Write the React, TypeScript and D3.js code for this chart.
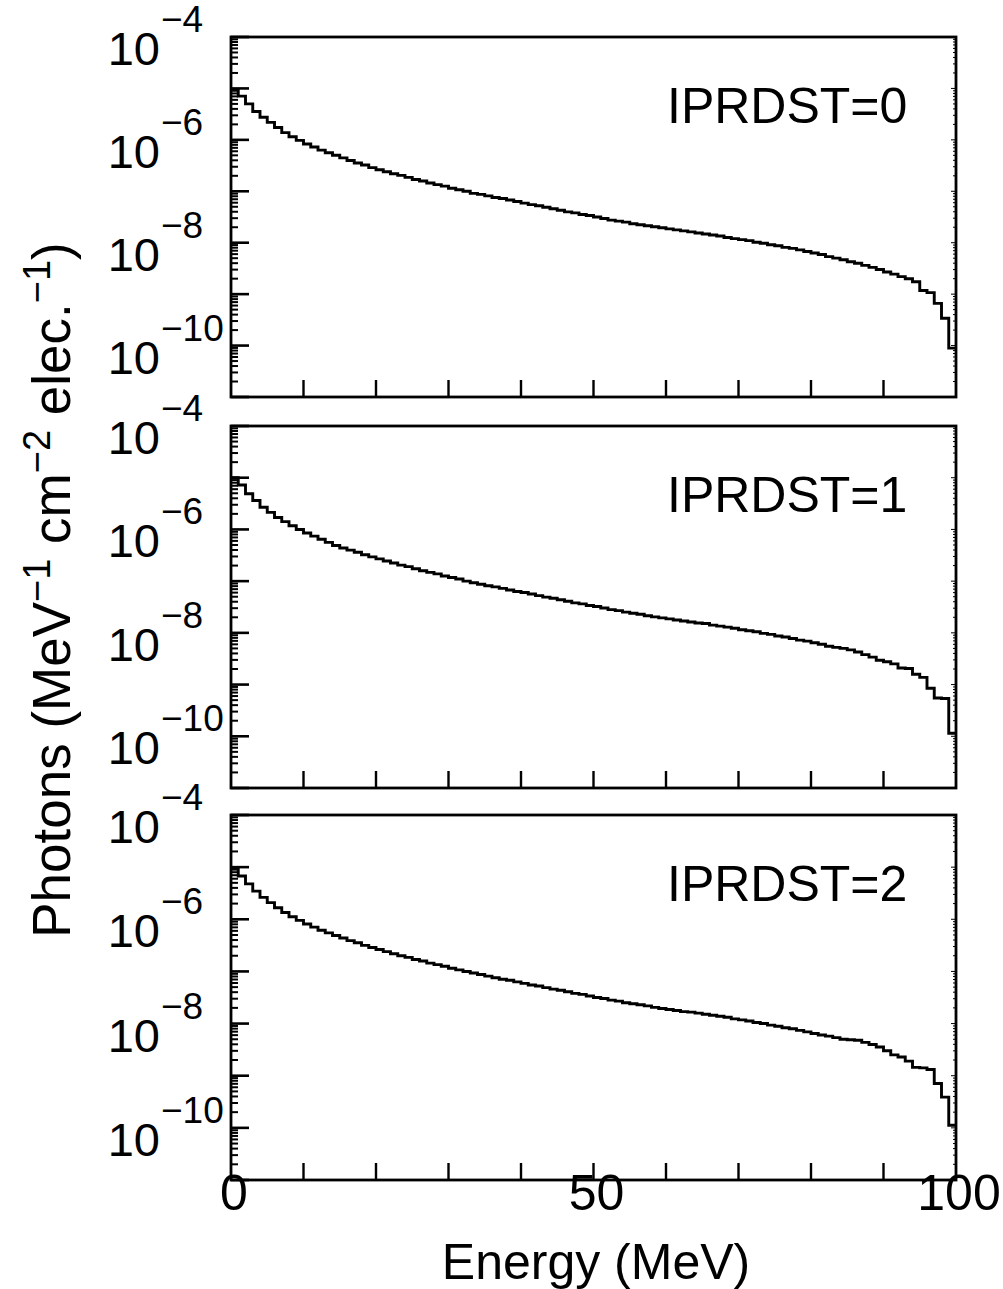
import React, { useEffect, useRef } from 'react';
import * as d3 from 'd3';

// panel labels
const panelNames = ['IPRDST=0', 'IPRDST=1', 'IPRDST=2'];

// log10 of photon flux, one value per 1 MeV bin (0..100 MeV)
const logFlux0 = [
  -5.02, -5.15, -5.30, -5.45, -5.56, -5.66, -5.76, -5.86, -5.94, -6.01,
  -6.08, -6.14, -6.20, -6.25, -6.30, -6.35, -6.40, -6.45, -6.49, -6.54,
  -6.58, -6.62, -6.66, -6.69, -6.73, -6.77, -6.80, -6.84, -6.87, -6.90,
  -6.94, -6.97, -7.00, -7.04, -7.06, -7.09, -7.12, -7.14, -7.17, -7.20,
  -7.23, -7.26, -7.28, -7.31, -7.34, -7.37, -7.40, -7.42, -7.45, -7.47,
  -7.50, -7.53, -7.56, -7.58, -7.60, -7.63, -7.65, -7.67, -7.69, -7.71,
  -7.73, -7.75, -7.77, -7.79, -7.81, -7.83, -7.85, -7.87, -7.90, -7.92,
  -7.94, -7.96, -7.99, -8.01, -8.04, -8.06, -8.09, -8.11, -8.14, -8.17,
  -8.20, -8.23, -8.27, -8.30, -8.33, -8.37, -8.40, -8.44, -8.48, -8.52,
  -8.57, -8.61, -8.66, -8.70, -8.76, -8.93, -8.97, -9.18, -9.47, -10.05,
];
const logFlux1 = [
  -5.00, -5.14, -5.31, -5.44, -5.57, -5.67, -5.77, -5.85, -5.93, -6.00,
  -6.07, -6.13, -6.19, -6.25, -6.31, -6.36, -6.40, -6.44, -6.49, -6.53,
  -6.57, -6.61, -6.65, -6.69, -6.72, -6.76, -6.80, -6.83, -6.86, -6.90,
  -6.93, -6.96, -7.00, -7.03, -7.06, -7.09, -7.11, -7.14, -7.17, -7.20,
  -7.22, -7.25, -7.28, -7.31, -7.33, -7.36, -7.39, -7.42, -7.44, -7.47,
  -7.49, -7.52, -7.55, -7.57, -7.60, -7.62, -7.64, -7.67, -7.69, -7.71,
  -7.73, -7.75, -7.77, -7.79, -7.81, -7.82, -7.85, -7.87, -7.89, -7.91,
  -7.94, -7.96, -7.98, -8.01, -8.03, -8.06, -8.08, -8.11, -8.14, -8.16,
  -8.19, -8.22, -8.26, -8.28, -8.30, -8.33, -8.37, -8.42, -8.47, -8.53,
  -8.56, -8.60, -8.68, -8.69, -8.80, -8.86, -9.07, -9.26, -9.27, -9.94,
];
const logFlux2 = [
  -5.03, -5.17, -5.32, -5.46, -5.58, -5.68, -5.78, -5.87, -5.95, -6.02,
  -6.09, -6.15, -6.21, -6.26, -6.31, -6.36, -6.41, -6.45, -6.50, -6.54,
  -6.58, -6.62, -6.66, -6.70, -6.73, -6.77, -6.80, -6.84, -6.87, -6.90,
  -6.94, -6.97, -7.00, -7.03, -7.06, -7.09, -7.12, -7.15, -7.17, -7.20,
  -7.23, -7.26, -7.28, -7.31, -7.34, -7.36, -7.39, -7.42, -7.44, -7.47,
  -7.50, -7.52, -7.55, -7.57, -7.60, -7.62, -7.64, -7.66, -7.69, -7.71,
  -7.73, -7.75, -7.77, -7.78, -7.80, -7.82, -7.84, -7.86, -7.88, -7.91,
  -7.93, -7.95, -7.98, -8.00, -8.03, -8.05, -8.08, -8.10, -8.13, -8.16,
  -8.19, -8.22, -8.24, -8.27, -8.30, -8.31, -8.32, -8.36, -8.40, -8.45,
  -8.52, -8.60, -8.64, -8.72, -8.84, -8.85, -8.88, -9.15, -9.41, -9.95,
];
const allLogFlux = [logFlux0, logFlux1, logFlux2];

const energyTicks = [0, 10, 20, 30, 40, 50, 60, 70, 80, 90, 100];
const energyLabels = [0, 50, 100];
const decadeLabels = [-4, -6, -8, -10];

const W = 1003;
const H = 1289;
const left = 231;
const right = 956;
const panels = [
  { top: 37, bottom: 397 },
  { top: 426, bottom: 788 },
  { top: 815, bottom: 1180 },
];
const FONT = '"Liberation Sans", Arial, Helvetica, sans-serif';

function App() {
  const svgRef = useRef<SVGSVGElement>(null);

  useEffect(() => {
    const svg = d3.select(svgRef.current);
    svg.selectAll('*').remove();
    const x = d3.scaleLinear().domain([0, 100]).range([left, right]);

    panels.forEach((p, pi) => {
      const y = d3.scaleLog().domain([1e-11, 1e-4]).range([p.bottom, p.top]);
      const g = svg.append('g');

      // minor + major ticks on the left axis, small ones on the right
      const ticks: { v: number; major: boolean }[] = [];
      for (let e = -11; e < -4; e++) {
        for (let m = 1; m < 10; m++) ticks.push({ v: m * Math.pow(10, e), major: m === 1 });
      }
      ticks.push({ v: 1e-4, major: true });
      g.selectAll('.yl')
        .data(ticks)
        .join('line')
        .attr('x1', left)
        .attr('x2', (d) => left + (d.major ? 18 : 7))
        .attr('y1', (d) => y(d.v))
        .attr('y2', (d) => y(d.v))
        .attr('stroke', '#000')
        .attr('stroke-width', (d) => (d.major ? 2.6 : 2));
      g.selectAll('.yr')
        .data(ticks)
        .join('line')
        .attr('x1', right)
        .attr('x2', (d) => right - (d.major ? 5 : 3))
        .attr('y1', (d) => y(d.v))
        .attr('y2', (d) => y(d.v))
        .attr('stroke', '#000')
        .attr('stroke-width', 1);

      // x ticks
      g.selectAll('.xt')
        .data(energyTicks.slice(1, -1))
        .join('line')
        .attr('x1', (d) => x(d))
        .attr('x2', (d) => x(d))
        .attr('y1', p.bottom)
        .attr('y2', p.bottom - 17)
        .attr('stroke', '#000')
        .attr('stroke-width', 2.4);

      // frame
      g.append('rect')
        .attr('x', left)
        .attr('y', p.top)
        .attr('width', right - left)
        .attr('height', p.bottom - p.top)
        .attr('fill', 'none')
        .attr('stroke', '#000')
        .attr('stroke-width', 2.8);

      // histogram
      const vals = allLogFlux[pi];
      const pts = vals.map((v, i) => [i, v] as [number, number]);
      pts.push([100, vals[vals.length - 1]]);
      const step = d3
        .line<[number, number]>()
        .x((d) => x(d[0]))
        .y((d) => y(Math.pow(10, d[1])))
        .curve(d3.curveStepAfter);
      g.append('path')
        .datum(pts)
        .attr('d', step)
        .attr('fill', 'none')
        .attr('stroke', '#000')
        .attr('stroke-width', 2.9);

      // decade labels
      decadeLabels.forEach((e) => {
        const ty = y(Math.pow(10, e));
        g.append('text')
          .attr('font-family', FONT)
          .attr('x', 160)
          .attr('y', ty + 28)
          .attr('text-anchor', 'end')
          .attr('font-size', 47)
          .text('10');
        g.append('text')
          .attr('font-family', FONT)
          .attr('x', 161)
          .attr('y', ty - 5)
          .attr('font-size', 37)
          .text('\u2212' + Math.abs(e));
      });

      g.append('text')
        .attr('font-family', FONT)
        .attr('font-size', 50)
        .attr('x', 667)
        .attr('y', p.top + 86)
        .text(panelNames[pi]);

      if (pi === panels.length - 1) {
        g.selectAll('.xl')
          .data(energyLabels)
          .join('text')
          .attr('font-family', FONT)
          .attr('font-size', 50)
          .attr('text-anchor', 'middle')
          .attr('x', (d) => x(d) + 3)
          .attr('y', p.bottom + 30)
          .text((d) => d);
      }
    });

    svg
      .append('text')
      .attr('font-family', FONT)
      .attr('font-size', 50)
      .attr('text-anchor', 'middle')
      .attr('x', 596)
      .attr('y', 1279)
      .text('Energy (MeV)');

    const yl = svg
      .append('text')
      .attr('font-family', FONT)
      .attr('font-size', 53)
      .attr('text-anchor', 'middle')
      .attr('transform', 'translate(70,590) rotate(-90)');
    const parts: [string, boolean][] = [
      ['Photons (MeV', false],
      ['\u22121', true],
      [' cm', false],
      ['\u22122', true],
      [' elec.', false],
      ['\u22121', true],
      [')', false],
    ];
    let raised = false;
    parts.forEach(([s, sup]) => {
      const ts = yl.append('tspan').text(s);
      if (sup && !raised) ts.attr('dy', -20).attr('font-size', 38);
      else if (sup) ts.attr('font-size', 38);
      if (!sup && raised) ts.attr('dy', 20);
      raised = sup;
    });
  }, []);

  return (
    <svg
      ref={svgRef}
      width={W}
      height={H}
      style={{ position: 'absolute', left: 0, top: 0, background: '#fff' }}
    />
  );
}

export default App;
